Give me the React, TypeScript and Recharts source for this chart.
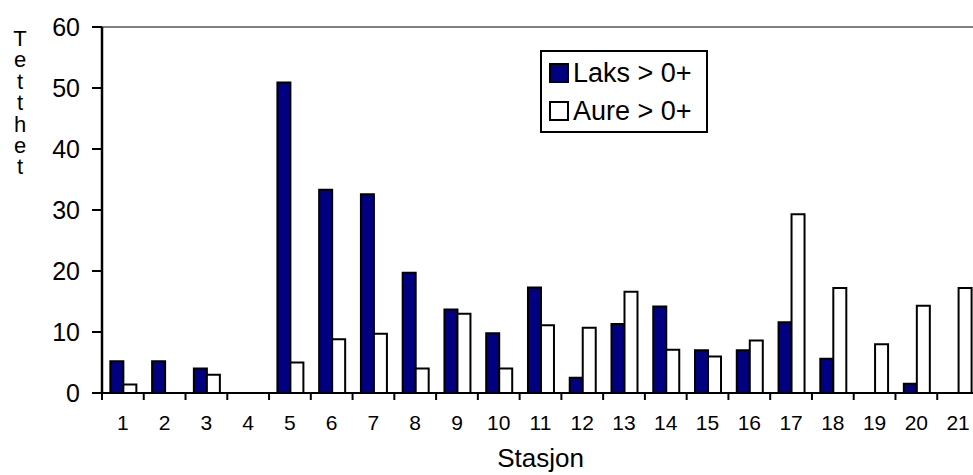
import { BarChart, Bar, XAxis, YAxis, ReferenceLine, Legend } from "recharts";

const stations = ["1", "2", "3", "4", "5", "6", "7", "8", "9", "10", "11", "12", "13", "14", "15", "16", "17", "18", "19", "20", "21"];
const laks = [5.2, 5.2, 4.0, 0, 50.9, 33.3, 32.6, 19.7, 13.7, 9.8, 17.3, 2.5, 11.3, 14.2, 7.0, 7.0, 11.6, 5.6, 0, 1.5, 0];
const aure = [1.4, 0, 3.0, 0, 5.0, 8.8, 9.7, 4.0, 13.0, 4.0, 11.1, 10.7, 16.6, 7.1, 6.0, 8.6, 29.3, 17.2, 8.0, 14.3, 17.2];
const yTicks = [0, 10, 20, 30, 40, 50, 60];
const seriesNames = ["Laks > 0+", "Aure > 0+"];
const seriesFills = ["#000080", "#ffffff"];

const data = stations.map((s, i) => ({ station: s, laks: laks[i], aure: aure[i] }));

const FONT = '"Liberation Sans", Arial, sans-serif';

function StationTick(props: any) {
  const { x, y, payload } = props;
  const half = payload.offset ?? 0;
  return (
    <g>
      <line x1={x - half} x2={x - half} y1={y} y2={y + 7} stroke="#000" strokeWidth={2} />
      <text x={x} y={y + 37} textAnchor="middle" fontSize={21} fontFamily={FONT} fill="#000">
        {payload.value}
      </text>
    </g>
  );
}

// stacked letters, like the Excel axis title
function VerticalTitle() {
  return (
    <text
      x={20}
      y={26}
      fontSize={22}
      fontFamily={FONT}
      fill="#000"
      letterSpacing={-3.6}
      style={{ writingMode: "vertical-rl", textOrientation: "upright" } as any}
    >
      Tetthet
    </text>
  );
}

function StationTitle({ viewBox }: any) {
  const cx = viewBox.x + viewBox.width / 2;
  return (
    <text x={cx} y={467} textAnchor="middle" fontSize={26} fontFamily={FONT} fill="#000">
      Stasjon
    </text>
  );
}

function LegendBox({ payload }: any) {
  const items = [...(payload || [])].sort(
    (a: any, b: any) => seriesNames.indexOf(a.value) - seriesNames.indexOf(b.value)
  );
  return (
    <div
      style={{
        border: "2px solid #000",
        background: "#fff",
        width: 164,
        height: 77,
        boxSizing: "content-box",
        fontFamily: FONT,
        fontSize: 27,
        color: "#000",
        paddingTop: 2,
      }}
    >
      {items.map((entry: any) => {
        const idx = seriesNames.indexOf(entry.value);
        return (
          <div key={entry.value} style={{ display: "flex", alignItems: "center", height: 38, paddingLeft: 7, whiteSpace: "nowrap" }}>
            <span
              style={{
                display: "inline-block",
                width: 16,
                height: 16,
                border: "2px solid #000",
                background: seriesFills[idx],
                marginRight: 4,
                flexShrink: 0,
              }}
            />
            <span>{entry.value}</span>
          </div>
        );
      })}
    </div>
  );
}

export default function App() {
  return (
    <div style={{ position: "absolute", left: 0, top: 0, width: 973, height: 475, overflow: "hidden", background: "#fff" }}>
      <BarChart
        width={979}
        height={475}
        data={data}
        margin={{ top: 27, right: 0, left: 0, bottom: 0 }}
        barCategoryGap="20%"
        barGap={0}
      >
        <XAxis
          dataKey="station"
          height={82}
          tick={<StationTick />}
          tickLine={false}
          tickSize={0}
          tickMargin={0}
          axisLine={{ stroke: "#000", strokeWidth: 2 }}
          interval={0}
          label={{ content: (p: any) => <StationTitle {...p} /> }}
        />
        <YAxis
          width={102}
          domain={[0, 60]}
          ticks={yTicks}
          interval={0}
          tickSize={10}
          tickMargin={12}
          tick={{ fontSize: 25, fontFamily: FONT, fill: "#000" }}
          tickLine={{ stroke: "#000", strokeWidth: 2 }}
          axisLine={{ stroke: "#000", strokeWidth: 2.5 }}
          label={{ content: () => <VerticalTitle /> }}
        />
        <ReferenceLine y={60} stroke="#808080" strokeWidth={2} />
        <Legend
          layout="horizontal"
          verticalAlign="middle"
          align="center"
          content={<LegendBox />}
          wrapperStyle={{ left: 540, top: 50, width: 168, height: 83 }}
        />
        <Bar dataKey="laks" name={seriesNames[0]} fill={seriesFills[0]} stroke="#000" strokeWidth={2} isAnimationActive={false} />
        <Bar dataKey="aure" name={seriesNames[1]} fill={seriesFills[1]} stroke="#000" strokeWidth={2} isAnimationActive={false} />
      </BarChart>
    </div>
  );
}
